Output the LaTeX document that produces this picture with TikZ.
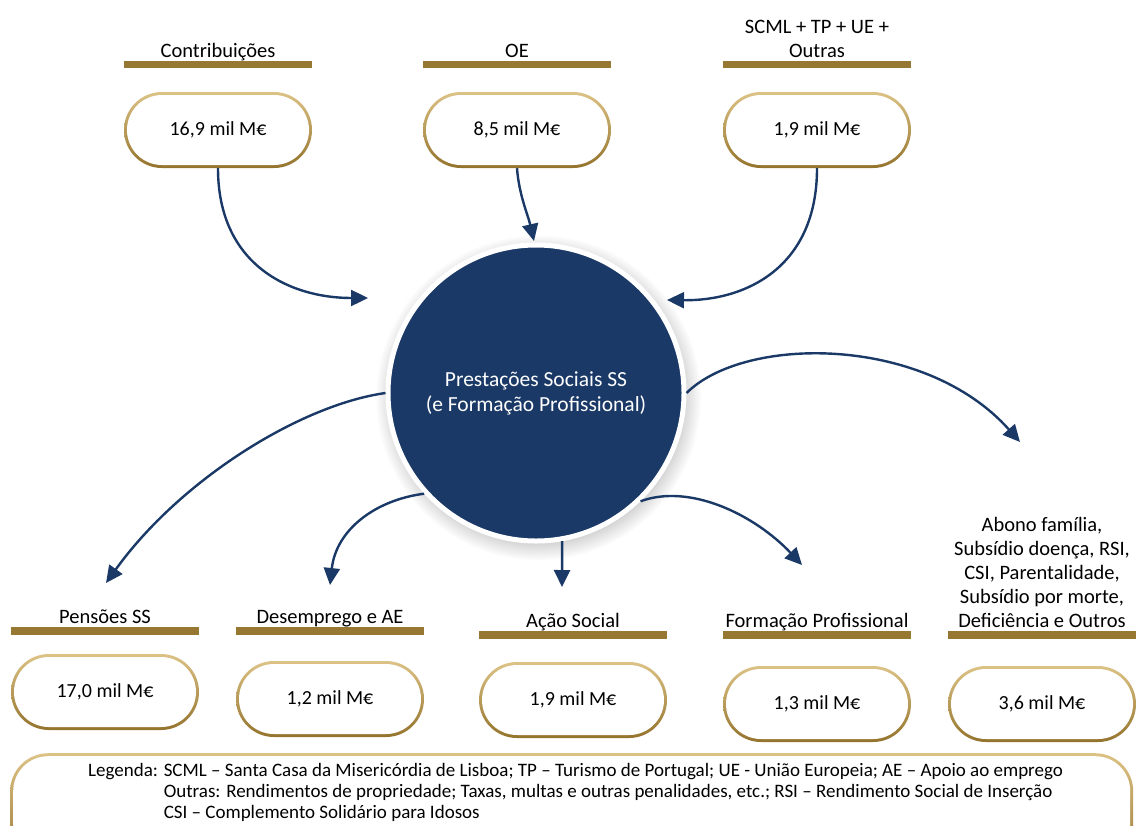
\documentclass[tikz,border=0pt]{standalone}
\usepackage{fontspec}
\setmainfont{Carlito}
\usetikzlibrary{arrows.meta,positioning,shapes.misc,shadows}
\definecolor{navy}{HTML}{1A3966}
\definecolor{goldbar}{HTML}{977833}
\definecolor{goldlt}{HTML}{DCC285}
\definecolor{golddk}{HTML}{94742D}
\tikzset{
  goldrim/.style={top color=goldlt, bottom color=golddk,
              path picture={\fill[white, rounded corners=35pt]
                ([shift={(3pt,3pt)}]path picture bounding box.south west) rectangle
                ([shift={(-3pt,-3pt)}]path picture bounding box.north east);}},
  pill/.style={rounded rectangle, goldrim, minimum width=188, minimum height=76,
              inner sep=0pt, font=\fontsize{20}{24}\selectfont},
  bar/.style={fill=goldbar, minimum width=188, minimum height=7.5, inner sep=0pt},
  lbl/.style={font=\fontsize{20.5}{24}\selectfont, align=center, inner sep=2pt, text depth=0pt},
  hub/.style={circle, fill=navy, draw=white, line width=5pt, minimum size=296,
              text=white, align=center, font=\fontsize{21.5}{25}\selectfont,
              circular drop shadow={shadow xshift=2pt, shadow yshift=-4pt, opacity=.45}},
  flow/.style={-{Triangle[length=17pt,width=16pt]}, line width=2.4pt, navy},
  legtxt/.style={font=\fontsize{19}{21}\selectfont, inner sep=0pt},
}
\begin{document}
\begin{tikzpicture}[x=1pt,y=-1pt]
  \useasboundingbox (0,0) rectangle (1137,825);
  % sources
  \node[bar] (b1) at (218,64.5) {};
  \node[bar] (b2) at (517,64.5) {};
  \node[bar] (b3) at (817,64.5) {};
  \node[lbl, above=1pt of b1] (l1) {Contribuições};
  \node[lbl, above=1pt of b2] (l2) {OE};
  \node[lbl, above=1pt of b3] (l3) {SCML + TP + UE +\\Outras};
  \node[pill] (c1) at (218,130) {16,9 mil M€};
  \node[pill] (c2) at (517,130) {8,5 mil M€};
  \node[pill] (c3) at (817,130) {1,9 mil M€};
  % centre
  \node[hub] (hub) at (536,393) {Prestações Sociais SS\\(e Formação Profissional)};
  % uses
  \node[bar] (b4) at (105,631) {};
  \node[bar] (b5) at (330,631) {};
  \node[bar] (b6) at (573,635) {};
  \node[bar] (b7) at (817,635) {};
  \node[bar] (b8) at (1042,635) {};
  \node[lbl, above=1pt of b4] (l4) {Pensões SS};
  \node[lbl, above=1pt of b5] (l5) {Desemprego e AE};
  \node[lbl, above=1pt of b6] (l6) {Ação Social};
  \node[lbl, above=1pt of b7] (l7) {Formação Profissional};
  \node[lbl, above=1pt of b8] (l8) {Abono família,\\Subsídio doença, RSI,\\CSI, Parentalidade,\\Subsídio por morte,\\Deficiência e Outros};
  \node[pill] (u1) at (105,692) {17,0 mil M€};
  \node[pill] (u2) at (330,699) {1,2 mil M€};
  \node[pill] (u3) at (573,700) {1,9 mil M€};
  \node[pill] (u4) at (817,704) {1,3 mil M€};
  \node[pill] (u5) at (1042,704) {3,6 mil M€};
  % arrow tips
  \coordinate (t1) at (368,298);
  \coordinate (t2) at (534,241);
  \coordinate (t3) at (667,300);
  \coordinate (t4) at (106,583);
  \coordinate (t5) at (330,585);
  \coordinate (t6) at (562,587);
  \coordinate (t7) at (802,565);
  \coordinate (t8) at (1020,442);
  \draw[flow] (c1.south) .. controls (218,265) and (290,298) .. (t1);
  \draw[flow] (c2.south) .. controls (519,195) and (528,215) .. (t2);
  \draw[flow] (c3.south) .. controls (817,268) and (745,301) .. (t3);
  \draw[flow] (hub.180) .. controls (300,405) and (180,480) .. (t4);
  \draw[flow] (hub.222) .. controls (375,500) and (336,530) .. (t5);
  \draw[flow] (hub.280) -- (t6);
  \draw[flow] (hub.314) .. controls (690,483) and (755,515) .. (t7);
  \draw[flow] (hub.0) .. controls (745,335) and (925,335) .. (t8);
  % legend
  \node[goldrim, rounded corners=38pt, minimum width=1123, minimum height=120,
        inner sep=0pt, anchor=north west] (legbox) at (10,753) {};
  \node[legtxt, anchor=north west] (leg) at (88,762) {%
    \begin{tabular}{@{}l@{ }l@{}}
    Legenda: & SCML -- Santa Casa da Misericórdia de Lisboa; TP -- Turismo de Portugal; UE - União Europeia; AE -- Apoio ao emprego\\
    & Outras: Rendimentos de propriedade; Taxas, multas e outras penalidades, etc.; RSI -- Rendimento Social de Inserção\\
    & CSI -- Complemento Solidário para Idosos
    \end{tabular}};
\end{tikzpicture}
\end{document}
